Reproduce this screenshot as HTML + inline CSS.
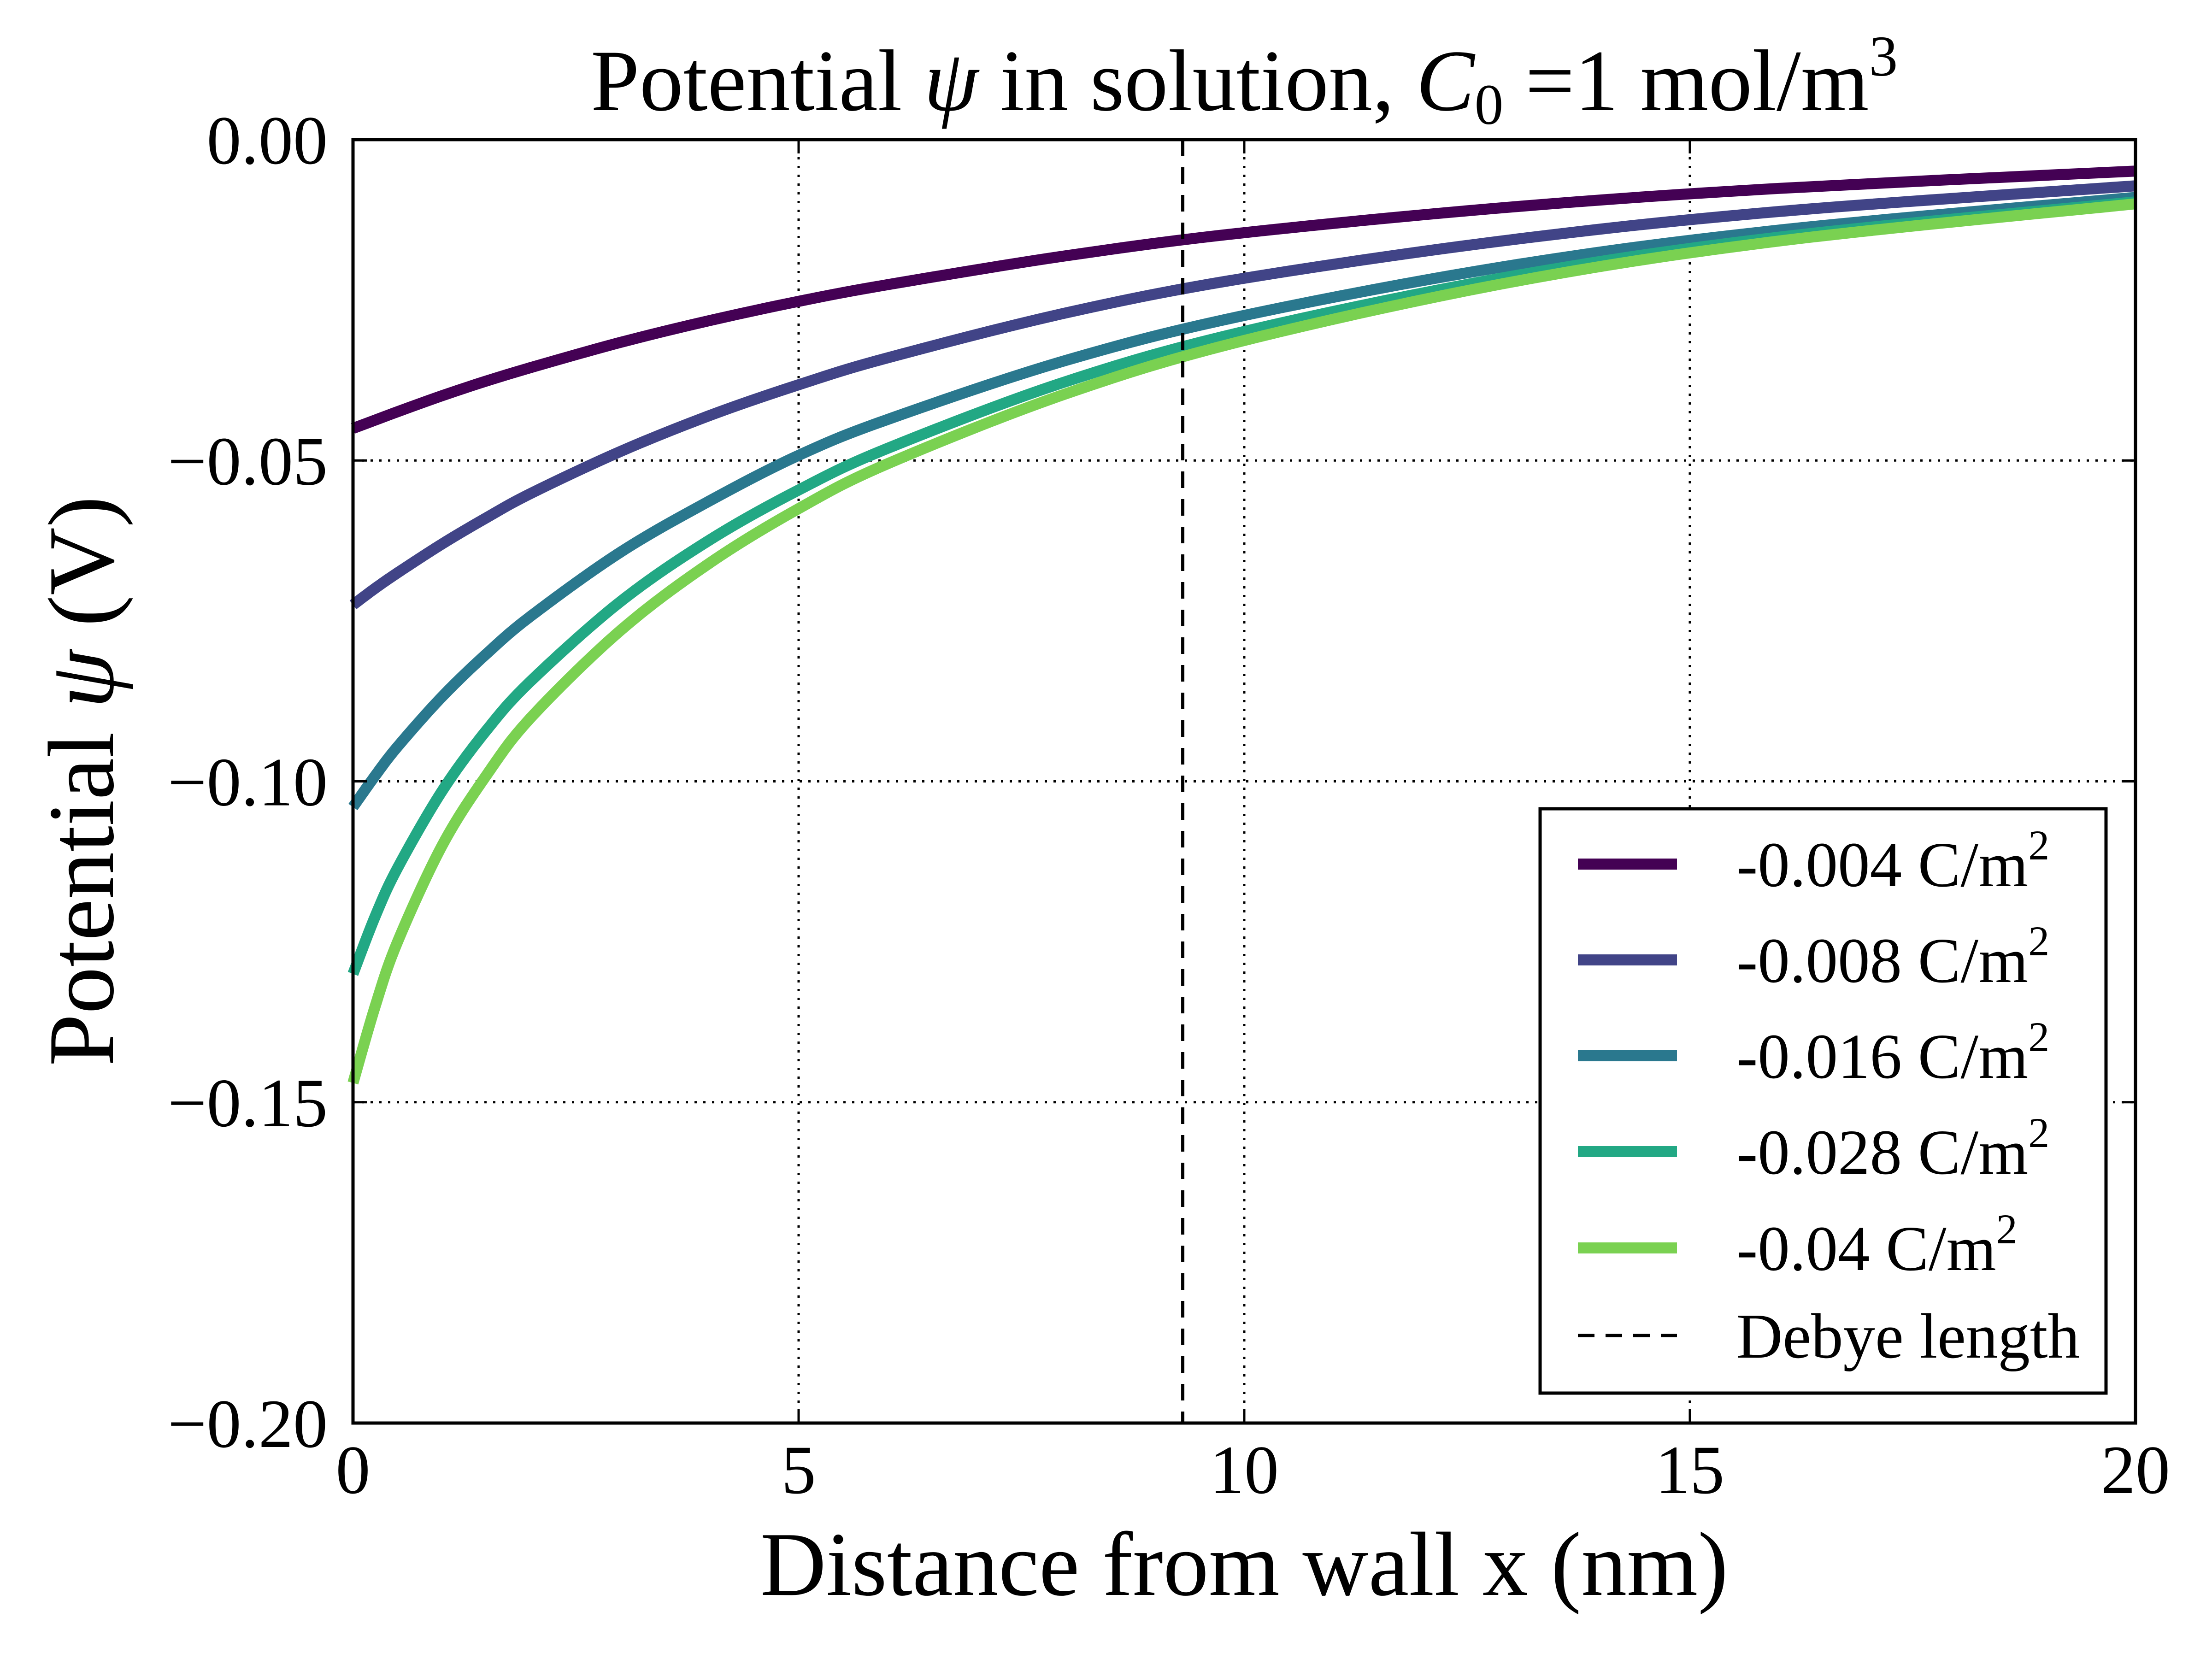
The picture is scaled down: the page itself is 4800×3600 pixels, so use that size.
<!DOCTYPE html>
<html><head><meta charset="utf-8"><style>
html,body{margin:0;padding:0;background:#fff;}
svg{display:block;}
text{font-family:"Liberation Serif",serif;fill:#000;}
</style></head><body>
<svg id="chart" width="4800" height="3600" viewBox="0 0 4800 3600" xmlns="http://www.w3.org/2000/svg">
<rect width="4800" height="3600" fill="#fff"/>
<g id="grid"></g>
<g id="series"></g>
<g id="axes"></g>
<text x="2700" y="239" font-size="190" text-anchor="middle">Potential <tspan font-style="italic">ψ</tspan> in solution, <tspan font-style="italic">C</tspan><tspan font-size="125" dy="30">0</tspan><tspan dy="-30"> =1 mol/m</tspan><tspan font-size="125" dy="-75">3</tspan></text>
<text x="2700" y="3461" font-size="198" text-anchor="middle">Distance from wall x (nm)</text>
<text transform="translate(245,1695) rotate(-90)" font-size="204" text-anchor="middle">Potential <tspan font-style="italic">ψ</tspan> (V)</text>
<g id="legend"></g>
</svg>
<script>
const xValues = [0,0.25,0.5,1,1.5,2,3,4,5,6,8,10,13,16,20];
const s1 = [-0.045,-0.0437,-0.0424,-0.0399,-0.0376,-0.0355,-0.0316,-0.0282,-0.0252,-0.0226,-0.0181,-0.0145,-0.0105,-0.0076,-0.0049];
const s2 = [-0.0725,-0.0699,-0.0675,-0.0630,-0.0589,-0.0551,-0.0486,-0.0430,-0.0382,-0.0340,-0.0270,-0.0216,-0.0156,-0.0112,-0.0072];
const s3 = [-0.104,-0.0991,-0.0946,-0.0868,-0.0801,-0.0742,-0.0643,-0.0563,-0.0492,-0.0436,-0.0344,-0.0274,-0.0196,-0.0141,-0.0090];
const s4 = [-0.130,-0.121,-0.1135,-0.1015,-0.0920,-0.0843,-0.0720,-0.0624,-0.0546,-0.0481,-0.0377,-0.0299,-0.0213,-0.0152,-0.0097];
const s5 = [-0.147,-0.135,-0.125,-0.110,-0.0990,-0.0900,-0.0765,-0.0660,-0.0575,-0.0505,-0.0396,-0.0313,-0.0222,-0.0158,-0.0100];
const seriesLabels = ["-0.004 C/m","-0.008 C/m","-0.016 C/m","-0.028 C/m","-0.04 C/m"];
const seriesColors = ["#440154","#414487","#2a788e","#22a884","#7ad151"];
const debyeLength = 9.31;
const xTicks = [0,5,10,15,20];
const xTickLabels = ["0","5","10","15","20"];
const yTicks = [0,-0.05,-0.10,-0.15,-0.20];
const yTickLabels = ["0.00","\u22120.05","\u22120.10","\u22120.15","\u22120.20"];

const NS="http://www.w3.org/2000/svg";
const L=766,R=4634,T=303,B=3088;
const xs=v=>L+(v-0)/(20-0)*(R-L);
const ys=v=>T+(0-v)/(0-(-0.2))*(B-T);
function mk(tag,attrs,parent){const e=document.createElementNS(NS,tag);for(const k in attrs)e.setAttribute(k,attrs[k]);parent.appendChild(e);return e;}
const grid=document.getElementById('grid'),axes=document.getElementById('axes'),ser=document.getElementById('series'),leg=document.getElementById('legend');

xTicks.forEach((t,i)=>{
  if(t>0&&t<20){const g=mk('line',{x1:xs(t),x2:xs(t),y1:T,y2:B,stroke:'#000','stroke-width':5,'stroke-dasharray':'5 14'},grid);
  
  }
  const a=mk('line',{x1:xs(t),x2:xs(t),y1:B,y2:B-30,stroke:'#000','stroke-width':5},axes);
  
  
  const a2=mk('line',{x1:xs(t),x2:xs(t),y1:T,y2:T+30,stroke:'#000','stroke-width':5},axes);
  
  
  const tx=mk('text',{x:xs(t),y:3240,'font-size':150,'text-anchor':'middle'},axes);
  tx.textContent=xTickLabels[i];
  
  
});
yTicks.forEach((t,i)=>{
  if(t<0&&t>-0.2){const g=mk('line',{x1:L,x2:R,y1:ys(t),y2:ys(t),stroke:'#000','stroke-width':5,'stroke-dasharray':'5 14'},grid);
  
  }
  const a=mk('line',{x1:L,x2:L+30,y1:ys(t),y2:ys(t),stroke:'#000','stroke-width':5},axes);
  
  
  const a2=mk('line',{x1:R,x2:R-30,y1:ys(t),y2:ys(t),stroke:'#000','stroke-width':5},axes);
  
  
  const tx=mk('text',{x:711,y:ys(t)+52,'font-size':150,'text-anchor':'end'},axes);
  tx.textContent=yTickLabels[i];
  
  
});

[s1,s2,s3,s4,s5].forEach((s,k)=>{
  const P=xValues.map((x,i)=>[xs(x),ys(s[i])]);
  let d='M'+P[0][0]+','+P[0][1];
  for(let i=0;i<P.length-1;i++){
    const p0=P[Math.max(0,i-1)],p1=P[i],p2=P[i+1],p3=P[Math.min(P.length-1,i+2)];
    const c1=[p1[0]+(p2[0]-p0[0])/6,p1[1]+(p2[1]-p0[1])/6];
    const c2=[p2[0]-(p3[0]-p1[0])/6,p2[1]-(p3[1]-p1[1])/6];
    d+=' C'+c1.join(',')+' '+c2.join(',')+' '+p2.join(',');
  }
  const p=mk('path',{d:d,fill:'none',stroke:seriesColors[k],'stroke-width':24,'stroke-linejoin':'round'},ser);
  
  
});
const dl=mk('line',{x1:xs(debyeLength),x2:xs(debyeLength),y1:T,y2:B,stroke:'#000','stroke-width':7,'stroke-dasharray':'36 24'},ser);



const frame=mk('rect',{x:L,y:T,width:R-L,height:B-T,fill:'none',stroke:'#000','stroke-width':7},axes);



const lb=mk('rect',{x:3342,y:1755,width:1228,height:1268,fill:'#fff',stroke:'#000','stroke-width':7},leg);


const rows=[1875,2083,2291,2499,2708,2898];
seriesLabels.forEach((lab,k)=>{
  const g=mk('g',{},leg);
  
  
  mk('line',{x1:3424,x2:3639,y1:rows[k],y2:rows[k],stroke:seriesColors[k],'stroke-width':24},g);
  const t=mk('text',{x:3768,y:rows[k]+48,'font-size':139},g);
  t.textContent=lab;
  const sup=mk('tspan',{'font-size':92,dy:-58},t);
  sup.textContent='2';
});
const g=mk('g',{},leg);


mk('line',{x1:3424,x2:3639,y1:rows[5],y2:rows[5],stroke:'#000','stroke-width':7,'stroke-dasharray':'36 24'},g);
const t=mk('text',{x:3768,y:rows[5]+48,'font-size':139},g);
t.textContent='Debye length';
</script>
</body></html>
